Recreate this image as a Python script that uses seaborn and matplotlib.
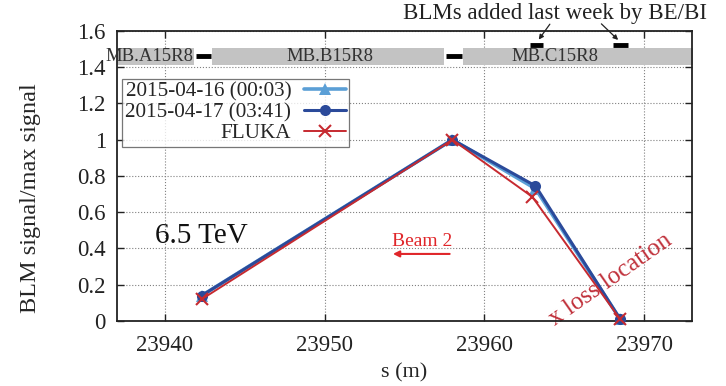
import matplotlib
matplotlib.use("Agg")
import matplotlib.pyplot as plt
from matplotlib.lines import Line2D
import seaborn as sns
import pandas as pd

# BLM positions (m) and normalised signals
s_blm = [23942.3, 23958.0, 23963.2, 23968.5]
sig_0416 = [0.14, 1.0, 0.73, 0.01]
sig_0417 = [0.14, 1.0, 0.745, 0.01]
s_fluka = [23942.3, 23958.0, 23963.0, 23968.5]
sig_fluka = [0.12, 1.0, 0.685, 0.01]

labels = ["2015-04-16 (00:03)", "2015-04-17 (03:41)", "FLUKA"]

# dipole magnets along the beam line (start, end, name, label position)
magnets = [(23936.0, 23941.8, "MB.A15R8", 23939.0),
           (23942.95, 23957.5, "MB.B15R8", 23950.3),
           (23958.65, 23974.0, "MB.C15R8", 23964.4)]
interconnects = [(23941.95, 23942.9), (23957.6, 23958.6)]
new_blms = [(23962.85, 23963.7), (23968.05, 23969.0)]

yticks = [0, 0.2, 0.4, 0.6, 0.8, 1.0, 1.2, 1.4, 1.6]
ytick_labels = ["0", "0.2", "0.4", "0.6", "0.8", "1", "1.2", "1.4", "1.6"]
xticks = [23940, 23950, 23960, 23970]

sns.set_theme(style="ticks")
plt.rcParams["font.family"] = ["Liberation Serif", "DejaVu Serif"]

fig = plt.figure(figsize=(7.26, 3.86), dpi=100)
ax = fig.add_axes([0.1612, 0.1684, 0.7920, 0.7513])
ax.set_axisbelow(True)

df_a = pd.DataFrame({"s": s_blm, "v": sig_0416})
df_b = pd.DataFrame({"s": s_blm, "v": sig_0417})
df_f = pd.DataFrame({"s": s_fluka, "v": sig_fluka})

c_light = "#5b9fd6"
c_dark = "#2b4a9a"
c_red = "#c62a30"
styles = [dict(color=c_light, lw=2.6, marker="^", markersize=8,
               markeredgewidth=0, markeredgecolor=c_light),
          dict(color=c_dark, lw=2.2, marker="o", markersize=8,
               markeredgewidth=0, markeredgecolor=c_dark),
          dict(color=c_red, lw=1.4, marker="x", markersize=9,
               markeredgewidth=1.5, markeredgecolor=c_red)]

for df, st, z in zip([df_a, df_b, df_f], styles, [3, 4, 5]):
    sns.lineplot(data=df, x="s", y="v", ax=ax, sort=False, legend=False,
                 zorder=z, clip_on=False, **st)

ax.set_xlim(23937, 23973)
ax.set_ylim(0, 1.6)
ax.set_xticks(xticks)
ax.set_xticklabels([str(t) for t in xticks])
ax.set_yticks(yticks)
ax.set_yticklabels(ytick_labels)
ax.tick_params(direction="in", length=5, width=1, top=True, right=True,
               labelsize=16.5, colors="#222222")
ax.tick_params(axis="x", pad=10)
ax.tick_params(axis="y", pad=8)
ax.grid(True, color="#808080", lw=0.8, ls=":")
for sp in ax.spines.values():
    sp.set_linewidth(1.3)
    sp.set_color("#222222")

ax.set_xlabel("s (m)", fontsize=16)
ax.set_ylabel("BLM signal/max signal", fontsize=17.5)
ax.xaxis.set_label_coords(0.5, -0.145)
ax.yaxis.set_label_coords(-0.132, 0.424)

# magnet layout band
for x0, x1, name, xm in magnets:
    ax.fill_between([x0, x1], 1.41, 1.508, color="#c3c3c3", lw=0, zorder=2)
    ax.text(xm, 1.46, name, ha="center", va="center", fontsize=13.5,
            color="#333333", zorder=6, clip_on=False)
for x0, x1 in interconnects:
    ax.plot([x0, x1], [1.46, 1.46], color="black", lw=3.5, zorder=3,
            solid_capstyle="butt")
for x0, x1 in new_blms:
    ax.plot([x0, x1], [1.525, 1.525], color="black", lw=3.5, zorder=3,
            solid_capstyle="butt", clip_on=False)

ax.text(23964.45, 1.695, "BLMs added last week by BE/BI", ha="center",
        va="center", fontsize=16.5, color="#222222", clip_on=False)
ax.annotate("", xy=(23963.3, 1.54), xytext=(23964.2, 1.65),
            arrowprops=dict(arrowstyle="-|>", color="#222222", lw=0.9,
                            mutation_scale=7), annotation_clip=False)
ax.annotate("", xy=(23968.5, 1.54), xytext=(23967.2, 1.65),
            arrowprops=dict(arrowstyle="-|>", color="#222222", lw=0.9,
                            mutation_scale=7), annotation_clip=False)

ax.text(23939.4, 0.47, "6.5 TeV", fontsize=21, color="#111111",
        ha="left", va="center")
ax.text(23956.1, 0.44, "Beam 2", fontsize=14, color="#e0262a",
        ha="center", va="center")
ax.annotate("", xy=(23954.1, 0.37), xytext=(23958.0, 0.37),
            arrowprops=dict(arrowstyle="-|>", color="#e0262a", lw=1.5,
                            mutation_scale=9))
ax.text(23964.6, -0.05, "x loss location", fontsize=18, color="#c0303a",
        rotation=35, rotation_mode="anchor", ha="left", va="bottom",
        clip_on=False, zorder=2)

handles = [Line2D([], [], **st) for st in styles]
leg = ax.legend(handles, labels, loc="upper left",
                bbox_to_anchor=(0.009, 0.835), markerfirst=False,
                frameon=True, fancybox=False, fontsize=15.2,
                handlelength=2.0, borderpad=0.15, labelspacing=0.05,
                handletextpad=0.6, borderaxespad=0.0)
leg.get_frame().set_edgecolor("#555555")
leg.get_frame().set_linewidth(0.9)
leg._legend_box.align = "right"
for t in leg.get_texts():
    t.set_ha("right")
leg.set_zorder(7)

fig.savefig("out.png", dpi=100)
